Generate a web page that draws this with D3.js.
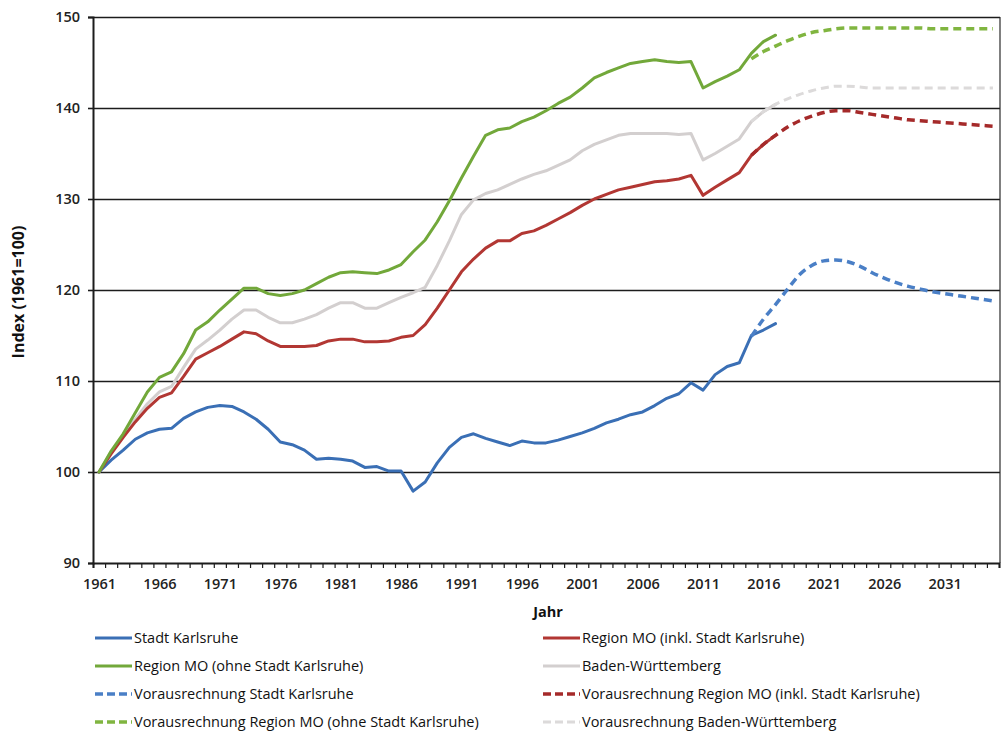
<!DOCTYPE html>
<html lang="de">
<head>
<meta charset="utf-8">
<title>Bevölkerungsentwicklung Index 1961=100</title>
<script src="https://cdn.jsdelivr.net/npm/d3@7"></script>
<style>
  html, body { margin: 0; padding: 0; background: #fff; }
  svg { display: block; font-family: "Open Sans", "Noto Sans", sans-serif; }
</style>
</head>
<body>
<svg id="chart" width="1004" height="731"></svg>
<script>
// ---- Kategorien (Jahre) ----
const yearsActual = d3.range(1961, 2018);   // 1961–2017
const yearsForecast = d3.range(2015, 2036); // 2015–2035
const allYears = d3.range(1961, 2036);
const xLabelYears = [1961, 1966, 1971, 1976, 1981, 1986, 1991, 1996, 2001, 2006, 2011, 2016, 2021, 2026, 2031];
const yTicks = [90, 100, 110, 120, 130, 140, 150];

// ---- Ist-Werte (Index 1961 = 100) ----
const stadtKarlsruhe = [
  100.0, 101.3, 102.4, 103.6, 104.3, 104.7, 104.8, 105.9, 106.6, 107.1,
  107.3, 107.2, 106.6, 105.8, 104.7, 103.3, 103.0, 102.4, 101.4, 101.5,
  101.4, 101.2, 100.5, 100.6, 100.1, 100.1, 97.9, 98.9, 101.0, 102.7,
  103.8, 104.2, 103.7, 103.3, 102.9, 103.4, 103.2, 103.2, 103.5, 103.9,
  104.3, 104.8, 105.4, 105.8, 106.3, 106.6, 107.3, 108.1, 108.6, 109.8,
  109.0, 110.7, 111.6, 112.0, 115.0, 115.6, 116.3
];
const regionMOinkl = [
  100.0, 102.0, 103.8, 105.5, 107.0, 108.2, 108.7, 110.5, 112.4, 113.1,
  113.8, 114.6, 115.4, 115.2, 114.4, 113.8, 113.8, 113.8, 113.9, 114.4,
  114.6, 114.6, 114.3, 114.3, 114.4, 114.8, 115.0, 116.2, 118.0, 120.0,
  122.0, 123.4, 124.6, 125.4, 125.4, 126.2, 126.5, 127.1, 127.8, 128.5,
  129.3, 130.0, 130.5, 131.0, 131.3, 131.6, 131.9, 132.0, 132.2, 132.6,
  130.4, 131.3, 132.1, 132.9, 134.8, 136.0, 137.0
];
const regionMOohne = [
  100.0, 102.3, 104.2, 106.5, 108.8, 110.4, 111.0, 113.0, 115.6, 116.5,
  117.8, 119.0, 120.2, 120.2, 119.6, 119.4, 119.6, 120.0, 120.7, 121.4,
  121.9, 122.0, 121.9, 121.8, 122.2, 122.8, 124.2, 125.5, 127.5, 129.8,
  132.3, 134.7, 137.0, 137.6, 137.8, 138.5, 139.0, 139.7, 140.5, 141.2,
  142.2, 143.3, 143.9, 144.4, 144.9, 145.1, 145.3, 145.1, 145.0, 145.1,
  142.2, 142.9, 143.5, 144.2, 146.0, 147.3, 148.0
];
const badenWuerttemberg = [
  100.0, 102.2, 104.0, 105.8, 107.5, 108.8, 109.4, 111.5, 113.5, 114.5,
  115.6, 116.8, 117.8, 117.8, 117.0, 116.4, 116.4, 116.8, 117.3, 118.0,
  118.6, 118.6, 118.0, 118.0, 118.6, 119.2, 119.7, 120.3, 122.7, 125.4,
  128.3, 129.9, 130.6, 131.0, 131.6, 132.2, 132.7, 133.1, 133.7, 134.3,
  135.3, 136.0, 136.5, 137.0, 137.2, 137.2, 137.2, 137.2, 137.1, 137.2,
  134.3, 135.0, 135.8, 136.6, 138.5, 139.6, 140.4
];

// ---- Vorausrechnung 2015–2035 ----
const vorausStadtKarlsruhe = [
  114.9, 116.8, 118.4, 120.1, 121.7, 122.7, 123.2, 123.3, 123.1, 122.6,
  121.9, 121.3, 120.8, 120.4, 120.1, 119.8, 119.6, 119.4, 119.2, 119.0, 118.8
];
const vorausRegionMOinkl = [
  134.8, 136.0, 137.0, 137.9, 138.6, 139.1, 139.5, 139.7, 139.7, 139.5,
  139.3, 139.1, 138.9, 138.7, 138.6, 138.5, 138.4, 138.3, 138.2, 138.1, 138.0
];
const vorausRegionMOohne = [
  145.4, 146.2, 146.8, 147.4, 147.9, 148.3, 148.5, 148.7, 148.8, 148.8,
  148.8, 148.8, 148.8, 148.8, 148.8, 148.7, 148.7, 148.7, 148.7, 148.7, 148.7
];
const vorausBadenWuerttemberg = [
  138.5, 139.6, 140.4, 141.0, 141.5, 141.9, 142.2, 142.4, 142.4, 142.3,
  142.2, 142.2, 142.2, 142.2, 142.2, 142.2, 142.2, 142.2, 142.2, 142.2, 142.2
];

// ---- Reihen-Definitionen ----
const series = [
  { name: "Stadt Karlsruhe", years: yearsActual, values: stadtKarlsruhe, color: "#3a6fb5", dash: null, width: 3 },
  { name: "Region MO (inkl. Stadt Karlsruhe)", years: yearsActual, values: regionMOinkl, color: "#b23733", dash: null, width: 3 },
  { name: "Region MO (ohne Stadt Karlsruhe)", years: yearsActual, values: regionMOohne, color: "#72a83a", dash: null, width: 3 },
  { name: "Baden-Württemberg", years: yearsActual, values: badenWuerttemberg, color: "#d3cfcf", dash: null, width: 3 },
  { name: "Vorausrechnung Stadt Karlsruhe", years: yearsForecast, values: vorausStadtKarlsruhe, color: "#4a7fc6", dash: "8,5", width: 3.5 },
  { name: "Vorausrechnung Region MO (inkl. Stadt Karlsruhe)", years: yearsForecast, values: vorausRegionMOinkl, color: "#a52a2a", dash: "8,5", width: 3.5 },
  { name: "Vorausrechnung Region MO (ohne Stadt Karlsruhe)", years: yearsForecast, values: vorausRegionMOohne, color: "#80b540", dash: "8,5", width: 3.5 },
  { name: "Vorausrechnung Baden-Württemberg", years: yearsForecast, values: vorausBadenWuerttemberg, color: "#dcdada", dash: "8,5", width: 3 }
];

// Legend order (two columns, row by row)
const legendOrder = [0, 1, 2, 3, 4, 5, 6, 7];

// ---- Layout ----
const svg = d3.select("#chart");
const plot = { left: 93, right: 999, top: 17, bottom: 563 };

const x = d3.scalePoint().domain(allYears).range([plot.left, plot.right]).padding(0.5);
const xEdge = d3.scaleLinear().domain([0, allYears.length]).range([plot.left, plot.right]);
const y = d3.scaleLinear().domain([90, 150]).range([plot.bottom, plot.top]);

// Horizontal gridlines
const grid = svg.append("g")
  .attr("transform", `translate(${plot.left},0)`)
  .call(d3.axisRight(y).tickValues(yTicks.filter(v => v > 90)).tickSize(plot.right + 1 - plot.left).tickFormat(""));
grid.select(".domain").remove();
grid.selectAll(".tick line").attr("stroke", "#1c1c1c").attr("stroke-width", 1.6);

// Right frame edge
svg.append("line")
  .attr("x1", plot.right + 1).attr("x2", plot.right + 1)
  .attr("y1", y(150)).attr("y2", y(90))
  .attr("stroke", "#2a2a2a").attr("stroke-width", 1.2);

// Y axis
const yAxis = svg.append("g")
  .attr("transform", `translate(${plot.left},0)`)
  .call(d3.axisLeft(y).tickValues(yTicks).tickSize(5).tickPadding(8).tickFormat(d3.format("d")));
yAxis.select(".domain").attr("stroke", "#1c1c1c").attr("stroke-width", 2);
yAxis.selectAll(".tick line").attr("stroke", "#1c1c1c").attr("stroke-width", 1.6);
yAxis.selectAll(".tick text").attr("font-size", 14.5).attr("fill", "#222")
  .attr("font-family", "'Open Sans', sans-serif").attr("font-weight", 600);

// X axis: category boundaries with small ticks
const xTicks = svg.append("g")
  .attr("transform", `translate(0,${plot.bottom})`)
  .call(d3.axisBottom(xEdge).tickValues(d3.range(0, allYears.length + 1)).tickSize(5).tickFormat(""));
xTicks.select(".domain").attr("stroke", "#1c1c1c").attr("stroke-width", 2);
xTicks.selectAll(".tick line").attr("stroke", "#1c1c1c").attr("stroke-width", 1.2);

// X axis labels every fifth year
const xLabels = svg.append("g")
  .attr("transform", `translate(0,${plot.bottom})`)
  .call(d3.axisBottom(x).tickValues(xLabelYears).tickSize(0).tickPadding(16));
xLabels.select(".domain").remove();
xLabels.selectAll(".tick text").attr("font-size", 14.5).attr("fill", "#222")
  .attr("font-family", "'Open Sans', sans-serif").attr("font-weight", 600);

// Axis titles
svg.append("text")
  .attr("x", 548).attr("y", 617)
  .attr("text-anchor", "middle")
  .attr("font-size", 14.5).attr("font-weight", 700).attr("fill", "#111")
  .text("Jahr");

svg.append("text")
  .attr("transform", `translate(24,${(y(150) + y(90)) / 2 + 2}) rotate(-90)`)
  .attr("text-anchor", "middle")
  .attr("font-size", 16).attr("font-weight", 700).attr("fill", "#111")
  .text("Index (1961=100)");

// Lines
const solidLine = d3.line().x(d => x(d[0])).y(d => y(d[1])).curve(d3.curveLinear);
const smoothLine = d3.line().x(d => x(d[0])).y(d => y(d[1])).curve(d3.curveMonotoneX);

const drawOrder = [3, 7, 0, 1, 2, 4, 5, 6];
svg.append("g").selectAll("path")
  .data(drawOrder.map(i => series[i]))
  .join("path")
  .attr("d", s => (s.dash ? smoothLine : solidLine)(s.years.map((yr, i) => [yr, s.values[i]])))
  .attr("fill", "none")
  .attr("stroke", s => s.color)
  .attr("stroke-width", s => s.width)
  .attr("stroke-linejoin", "round")
  .attr("stroke-linecap", s => s.dash ? "butt" : "round")
  .attr("stroke-dasharray", s => s.dash);

// Legend
const legendCols = [95, 543];
const legendRows = [638, 666, 694, 722];
const legend = svg.append("g").selectAll("g")
  .data(legendOrder.map(i => series[i]))
  .join("g")
  .attr("transform", (s, i) => `translate(${legendCols[i % 2]},${legendRows[Math.floor(i / 2)]})`);

legend.append("line")
  .attr("x1", 0).attr("x2", 37).attr("y1", 0).attr("y2", 0)
  .attr("stroke", s => s.color)
  .attr("stroke-width", s => s.width)
  .attr("stroke-dasharray", s => s.dash ? "8,4" : null);

legend.append("text")
  .attr("x", 39).attr("y", 0)
  .attr("dy", "0.35em")
  .attr("font-size", 14.5).attr("fill", "#111")
  .text(s => s.name);
</script>
</body>
</html>
